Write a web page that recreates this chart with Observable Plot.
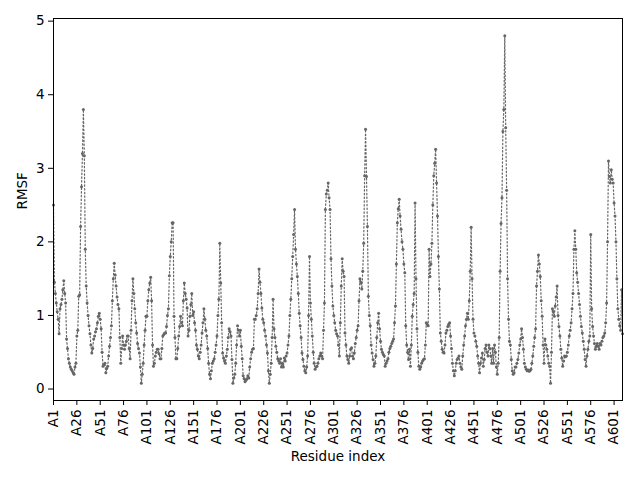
<!DOCTYPE html>
<html><head><meta charset="utf-8">
<script src="https://cdn.jsdelivr.net/npm/d3@7"></script>
<script src="https://cdn.jsdelivr.net/npm/@observablehq/plot@0.6"></script>
<style>body{margin:0;background:#fff}</style>
</head><body><div id="chart"></div>
<script>
const chainId = "A";
const xLabel = "Residue index";
const yLabel = "RMSF";
const yTicks = [0, 1, 2, 3, 4, 5];
const tickResidues = [1,26,51,76,101,126,151,176,201,226,251,276,301,326,351,376,401,426,451,476,501,526,551,576,601];
const rmsf = [
2.5,1.45,1.3,1.17,1.05,0.95,0.75,1.09,1.15,1.22,
1.35,1.47,1.3,1.17,0.68,0.55,0.41,0.35,0.3,0.27,
0.25,0.22,0.2,0.3,0.35,0.72,0.8,1.26,1.28,2.21,
2.75,3.2,3.8,3.17,1.9,1.4,1.17,1.0,0.86,0.75,
0.6,0.49,0.55,0.68,0.72,0.78,0.82,0.9,0.99,1.03,
0.95,0.82,0.5,0.31,0.33,0.35,0.22,0.28,0.31,0.45,
0.58,0.7,0.86,1.2,1.5,1.71,1.55,1.4,1.25,1.15,
1.09,0.7,0.35,0.55,0.72,0.6,0.54,0.6,0.65,0.72,
0.72,0.55,0.41,0.8,1.2,1.5,1.3,1.09,0.9,0.76,
0.62,0.55,0.49,0.3,0.08,0.2,0.35,0.6,0.8,0.99,
0.99,1.2,1.35,1.44,1.52,1.2,0.6,0.31,0.35,0.45,
0.5,0.54,0.54,0.48,0.41,0.41,0.55,0.72,0.74,0.76,
0.76,0.85,1.0,1.09,1.54,1.8,2.0,2.26,2.26,0.99,
0.7,0.41,0.41,0.55,0.72,0.85,0.99,0.9,0.86,1.2,
1.44,1.3,1.22,1.1,0.72,0.8,0.99,1.15,1.3,1.0,
1.05,0.9,0.8,0.6,0.54,0.45,0.41,0.5,0.6,0.76,
0.9,1.09,0.95,0.8,0.72,0.55,0.35,0.2,0.14,0.25,
0.35,0.38,0.41,0.5,0.6,0.72,1.0,1.22,1.98,1.44,
0.9,0.49,0.42,0.38,0.35,0.45,0.54,0.7,0.82,0.78,
0.72,0.4,0.08,0.15,0.2,0.35,0.6,0.86,0.8,0.72,
0.8,0.58,0.41,0.18,0.14,0.1,0.12,0.14,0.18,0.15,
0.3,0.41,0.5,0.54,0.55,0.95,0.95,1.0,1.09,1.3,
1.63,1.45,1.3,1.1,0.95,0.9,0.8,0.72,0.6,0.49,
0.25,0.08,0.2,0.35,0.7,1.22,0.82,0.7,0.58,0.5,
0.41,0.38,0.35,0.41,0.3,0.35,0.3,0.42,0.38,0.45,
0.49,0.6,0.72,1.0,1.22,1.5,1.8,2.1,2.44,1.9,
1.7,1.53,1.3,1.03,0.86,0.7,0.49,0.4,0.31,0.25,
0.22,0.3,0.45,1.0,1.8,1.17,0.95,0.72,0.5,0.35,
0.27,0.3,0.31,0.35,0.41,0.45,0.49,0.45,0.41,0.8,
1.17,2.44,2.65,2.7,2.8,2.6,2.44,1.77,1.4,1.13,
1.0,0.9,0.8,0.75,0.72,0.6,0.45,0.9,1.4,1.77,
1.6,1.53,0.76,0.6,0.45,0.4,0.35,0.45,0.54,0.56,
0.45,0.41,0.49,0.62,0.7,0.8,0.86,1.2,1.5,1.45,
1.36,1.6,1.98,2.9,3.53,2.89,2.21,1.26,1.0,0.86,
0.6,0.49,0.4,0.31,0.35,0.45,0.7,0.9,1.03,0.82,
0.65,0.54,0.5,0.47,0.45,0.31,0.35,0.38,0.41,0.5,
0.55,0.58,0.62,0.65,0.68,0.9,1.13,1.7,2.26,2.45,
2.58,2.35,2.17,2.0,1.9,1.7,1.58,0.86,0.6,0.5,
0.4,0.54,0.31,0.6,0.99,1.15,1.3,2.53,1.5,0.82,
0.5,0.31,0.27,0.3,0.35,0.38,0.4,0.41,0.6,0.9,
0.88,0.86,1.9,1.53,1.7,1.98,2.5,2.9,3.07,3.26,
2.8,2.35,1.8,1.36,0.76,0.65,0.54,0.5,0.49,0.6,
0.76,0.8,0.85,0.88,0.9,0.72,0.55,0.35,0.25,0.18,
0.25,0.35,0.4,0.42,0.45,0.35,0.3,0.27,0.45,0.6,
0.72,0.86,0.95,1.03,0.95,1.2,1.6,2.2,1.5,0.95,
0.76,0.72,0.65,0.58,0.45,0.35,0.22,0.35,0.42,0.49,
0.31,0.4,0.55,0.6,0.5,0.45,0.6,0.55,0.45,0.35,
0.55,0.35,0.6,0.5,0.3,0.2,0.35,0.7,1.6,2.25,
2.6,3.5,3.8,4.8,3.55,2.7,1.5,0.95,0.65,0.6,
0.4,0.25,0.2,0.22,0.3,0.3,0.35,0.4,0.49,0.6,
0.68,0.82,0.7,0.54,0.35,0.3,0.27,0.25,0.26,0.24,
0.25,0.27,0.35,0.45,0.58,0.7,0.82,1.4,1.6,1.82,
1.7,1.53,1.2,0.99,0.6,0.35,0.68,0.6,0.54,0.45,
0.35,0.31,0.08,0.5,1.09,1.05,0.99,1.13,1.25,1.4,
1.0,0.85,0.72,0.54,0.42,0.31,0.38,0.45,0.44,0.45,
0.5,0.6,0.72,0.8,0.9,1.09,1.3,1.9,2.15,1.9,
1.58,1.45,1.3,1.15,0.99,0.85,0.76,0.65,0.54,0.4,
0.31,0.45,0.54,0.65,0.72,2.1,1.09,0.85,0.72,0.62,
0.54,0.58,0.62,0.58,0.54,0.62,0.6,0.65,0.7,0.72,
0.76,0.9,1.17,2.0,3.1,2.89,2.8,2.98,2.85,2.8,
2.53,2.35,2.0,1.5,1.09,0.95,0.86,0.8,1.35,0.75
];

const data = rmsf.map((v, i) => ({i, v}));
const [lo, hi] = d3.extent(rmsf);
const pad = (hi - lo) * 0.05;

const chart = Plot.plot({
  width: 640, height: 480,
  marginLeft: 53, marginRight: 18, marginTop: 18, marginBottom: 80,
  style: {fontFamily: "DejaVu Sans", fontSize: "13.5px", background: "white", color: "black"},
  x: {domain: [0, rmsf.length - 1], ticks: tickResidues.map(r => r - 1),
      tickFormat: d => chainId + (d + 1), tickRotate: -90, tickSize: 5, tickPadding: 4, label: null},
  y: {domain: [lo - pad, hi + pad], ticks: yTicks, tickFormat: d => String(d), tickSize: 5, tickPadding: 4, label: null},
  marks: [
    Plot.line(data, {x: "i", y: "v", stroke: "#666", strokeWidth: 1.2, strokeDasharray: "1.4,2.3"}),
    Plot.dot(data, {x: "i", y: "v", r: 1.5, fill: "#666", stroke: "none"}),
    Plot.frame({stroke: "black", strokeWidth: 1}),
    Plot.text([xLabel], {text: d => d, frameAnchor: "bottom", dy: 60, fontSize: 13.5}),
    Plot.text([yLabel], {text: d => d, frameAnchor: "left", dx: -31, rotate: -90, fontSize: 13.5})
  ]
});
document.getElementById("chart").appendChild(chart);
</script>
</body></html>
